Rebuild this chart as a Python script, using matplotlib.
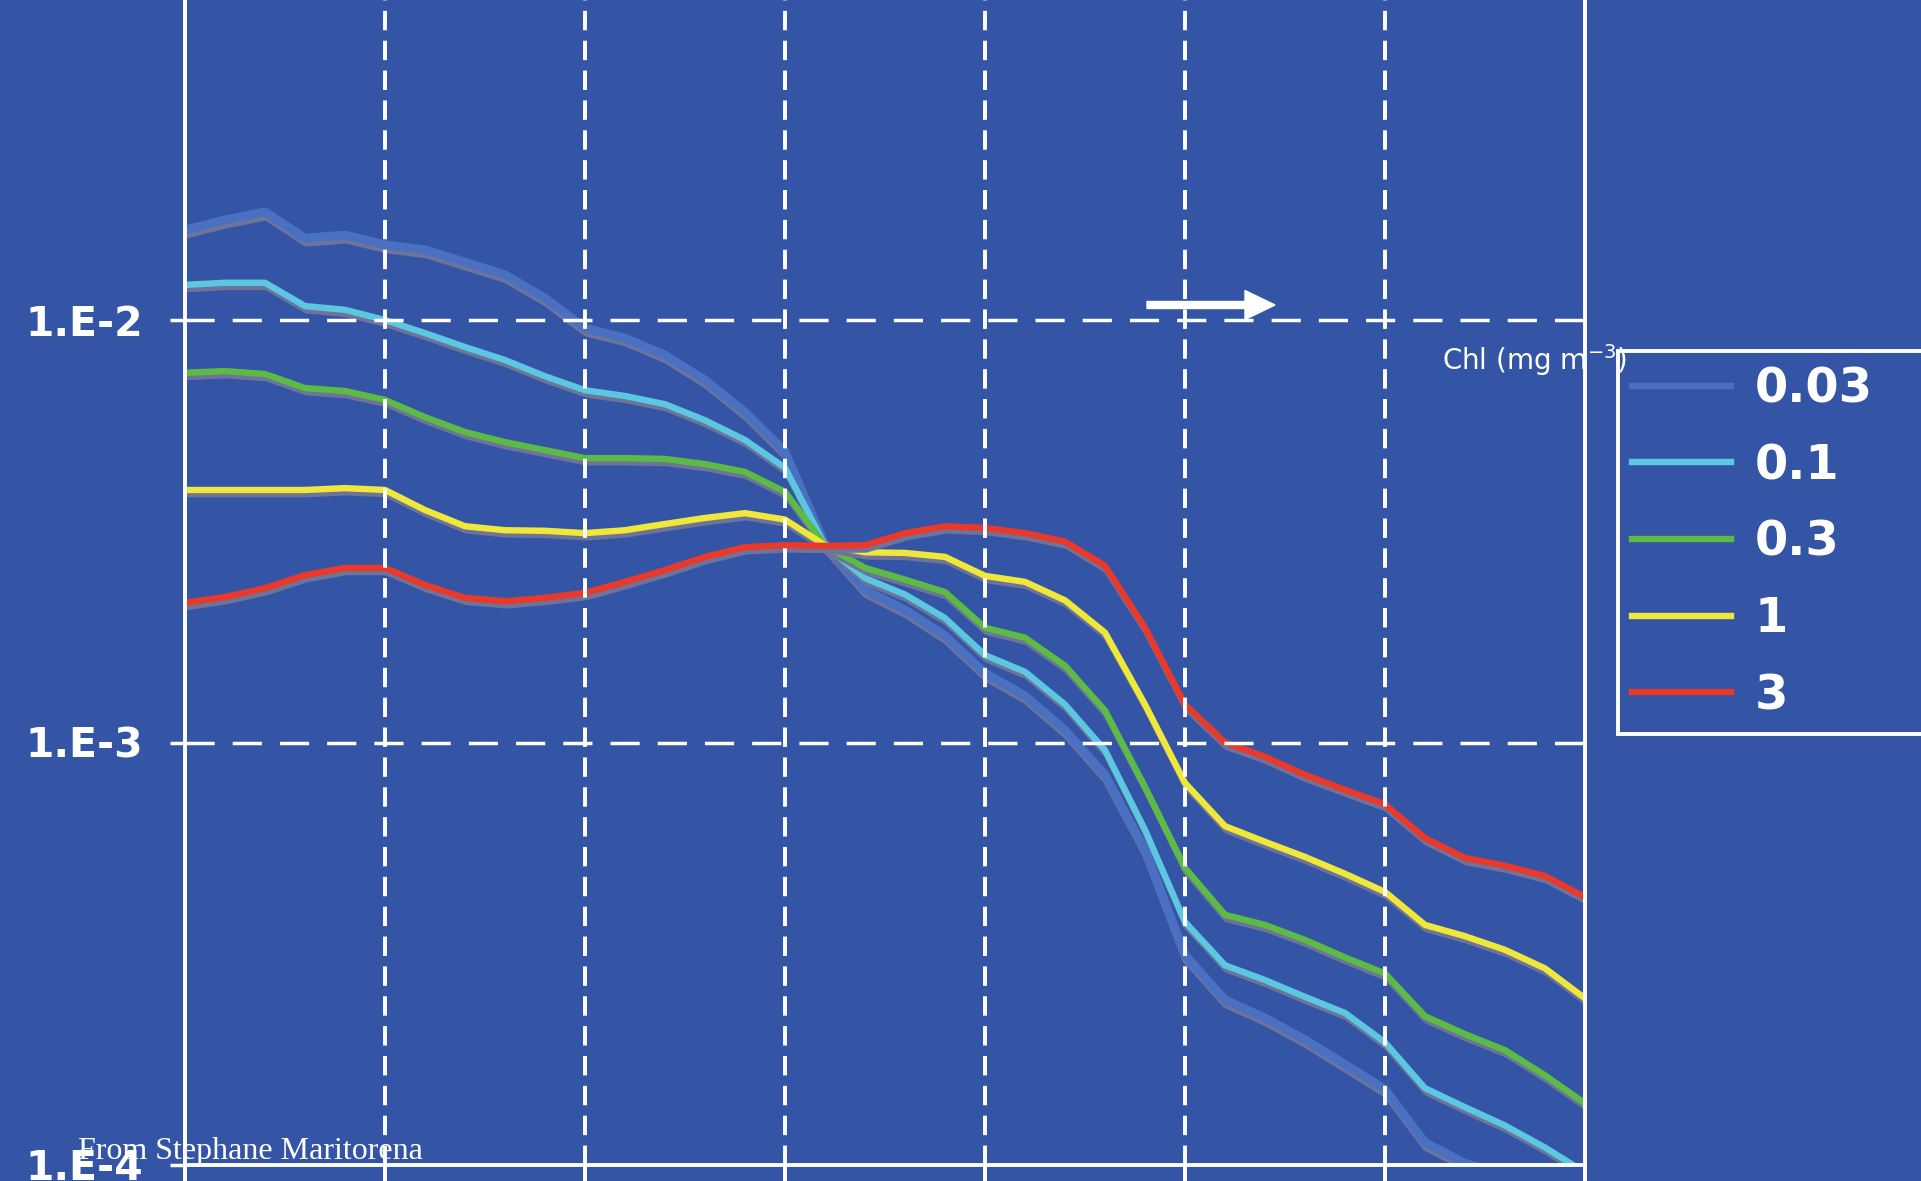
import matplotlib
matplotlib.use('Agg')
import matplotlib.pyplot as plt
import matplotlib.patheffects as pe
from matplotlib.lines import Line2D
from matplotlib.patches import FancyArrow
from matplotlib.ticker import NullLocator

plt.rcParams['lines.scale_dashes'] = False

# ── data: reflectance spectra for five chlorophyll levels ────────────────────
wavelength = list(range(350, 701, 10))   # nm

rrs_003 = [1.633e-2, 1.726e-2, 1.803e-2, 1.563e-2, 1.589e-2, 1.507e-2, 1.466e-2,
           1.371e-2, 1.279e-2, 1.127e-2, 9.57e-3, 9.06e-3, 8.26e-3, 7.21e-3,
           6.05e-3, 4.88e-3, 2.94e-3, 2.30e-3, 2.06e-3, 1.79e-3, 1.46e-3,
           1.29e-3, 1.07e-3, 8.38e-4, 5.57e-4, 3.14e-4, 2.46e-4, 2.23e-4,
           1.98e-4, 1.73e-4, 1.51e-4, 1.13e-4, 1.01e-4, 9.5e-5, 8.7e-5, 8.3e-5]
rrs_01 = [1.211e-2, 1.225e-2, 1.225e-2, 1.079e-2, 1.057e-2, 1.000e-2, 9.31e-3,
          8.63e-3, 8.04e-3, 7.36e-3, 6.82e-3, 6.61e-3, 6.32e-3, 5.79e-3,
          5.20e-3, 4.47e-3, 2.93e-3, 2.45e-3, 2.24e-3, 1.97e-3, 1.61e-3,
          1.47e-3, 1.23e-3, 9.59e-4, 6.21e-4, 3.76e-4, 2.97e-4, 2.74e-4,
          2.50e-4, 2.29e-4, 1.95e-4, 1.52e-4, 1.37e-4, 1.24e-4, 1.10e-4, 9.6e-5]
rrs_03 = [7.50e-3, 7.57e-3, 7.45e-3, 6.90e-3, 6.79e-3, 6.47e-3, 5.89e-3,
          5.43e-3, 5.14e-3, 4.92e-3, 4.71e-3, 4.71e-3, 4.69e-3, 4.56e-3,
          4.37e-3, 3.92e-3, 2.93e-3, 2.59e-3, 2.43e-3, 2.27e-3, 1.87e-3,
          1.77e-3, 1.52e-3, 1.19e-3, 7.85e-4, 5.05e-4, 3.91e-4, 3.70e-4,
          3.41e-4, 3.10e-4, 2.84e-4, 2.25e-4, 2.04e-4, 1.87e-4, 1.63e-4, 1.40e-4]
rrs_1 = [3.96e-3, 3.96e-3, 3.96e-3, 3.96e-3, 4.00e-3, 3.96e-3, 3.55e-3,
         3.25e-3, 3.18e-3, 3.17e-3, 3.13e-3, 3.18e-3, 3.29e-3, 3.40e-3,
         3.49e-3, 3.37e-3, 2.93e-3, 2.82e-3, 2.81e-3, 2.75e-3, 2.48e-3,
         2.40e-3, 2.17e-3, 1.82e-3, 1.23e-3, 8.02e-4, 6.34e-4, 5.82e-4,
         5.36e-4, 4.89e-4, 4.43e-4, 3.70e-4, 3.48e-4, 3.23e-4, 2.92e-4, 2.48e-4]
rrs_3 = [2.14e-3, 2.21e-3, 2.32e-3, 2.49e-3, 2.59e-3, 2.59e-3, 2.36e-3,
         2.20e-3, 2.16e-3, 2.20e-3, 2.26e-3, 2.40e-3, 2.56e-3, 2.75e-3,
         2.90e-3, 2.93e-3, 2.92e-3, 2.93e-3, 3.13e-3, 3.25e-3, 3.22e-3,
         3.13e-3, 2.99e-3, 2.62e-3, 1.87e-3, 1.23e-3, 1.00e-3, 9.25e-4,
         8.38e-4, 7.73e-4, 7.14e-4, 5.94e-4, 5.33e-4, 5.11e-4, 4.83e-4, 4.31e-4]

chl_labels = ['0.03', '0.1', '0.3', '1', '3']
y_ticks = [1e-4, 1e-3, 1e-2]
y_ticklabels = ['1.E-4', '1.E-3', '1.E-2']
x_grid = [400, 450, 500, 550, 600, 650]

# ── palette ──────────────────────────────────────────────────────────────────
BG = '#3454A6'
SHADOW = '#6E7399'
COLORS = ['#4A70C2', '#5CC7E1', '#5CBB45', '#EFE83B', '#E8392A']
WIDTHS = [6.3, 4.6, 4.6, 4.6, 4.6]

W, H = 1921, 1181
fig = plt.figure(figsize=(W / 100, H / 100), dpi=100, facecolor=BG)
ax = fig.add_axes([185 / W, 16 / H, 1400 / W, 1165 / H])
ax.set_facecolor(BG)
ax.set_yscale('log')
ax.set_xlim(350, 700)
ax.set_ylim(1e-4, 10 ** (-4 + 1165 / 422.5))

series = [rrs_003, rrs_01, rrs_03, rrs_1, rrs_3]
for vals, col, lw in zip(series, COLORS, WIDTHS):
    ax.plot(wavelength, vals, color=col, lw=lw, solid_joinstyle='round',
            solid_capstyle='butt', zorder=2,
            path_effects=[pe.SimpleLineShadow(offset=(1, -3), shadow_color=SHADOW, alpha=1),
                          pe.Normal()])

# dashed grid, drawn over the curves
for x in x_grid:
    ax.axvline(x, color='white', lw=2.8, dashes=(14, 7.5), zorder=3)
for y in y_ticks[1:]:
    ax.axhline(y, color='white', lw=2.5, dashes=(21, 13), zorder=3)

# spines / ticks
ax.spines['top'].set_visible(False)
for s in ('left', 'right', 'bottom'):
    ax.spines[s].set_color('white')
    ax.spines[s].set_linewidth(2.8)
    ax.spines[s].set_zorder(4)

ax.set_xticks(range(350, 701, 50))
ax.set_xticklabels([])
ax.tick_params(axis='x', direction='out', length=12, width=2.8, color='white')
ax.set_yticks(y_ticks)
ax.set_yticklabels(y_ticklabels)
ax.yaxis.set_minor_locator(NullLocator())
ax.tick_params(axis='y', direction='out', length=11, width=2.5, color='white',
               labelcolor='white', labelsize=29.5, pad=19)
for lab in ax.get_yticklabels():
    lab.set_fontweight('bold')

# ── legend ───────────────────────────────────────────────────────────────────
handles = [Line2D([], [], color=c, lw=4.6) for c in COLORS]
leg = fig.legend(handles=handles, labels=chl_labels, loc='upper left',
                 bbox_to_anchor=(1618 / W, 1 - 351 / H, 330 / W, 0), mode='expand',
                 borderaxespad=0, frameon=True, fancybox=False, facecolor=BG,
                 edgecolor='white', framealpha=1, labelcolor='white',
                 prop=dict(weight='bold', size=34.5), handlelength=2.05,
                 handletextpad=0.5, labelspacing=0.62, borderpad=0.3)
leg.get_frame().set_linewidth(2.8)

fig.text(1442 / W, 1 - 370 / H, 'Chl (mg m$^{-3}$)', fontsize=20, color='white',
         va='baseline', zorder=6)

# arrow
fig.add_artist(FancyArrow(1147 / W, 1 - 305 / H, (1275 - 1147) / W, 0,
                          width=7 / H, head_width=29 / H, head_length=30 / W,
                          length_includes_head=True, transform=fig.transFigure,
                          color='white', zorder=6))

fig.text(78 / W, 1 - 1159 / H, 'From Stephane Maritorena', family='Liberation Serif',
         fontsize=23, color='white', va='baseline', zorder=7)

fig.savefig('out.png', dpi=100, facecolor=BG)
